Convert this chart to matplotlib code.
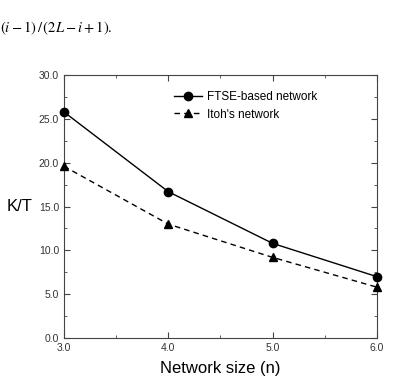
import matplotlib
matplotlib.use('Agg')
import matplotlib.pyplot as plt
from matplotlib.ticker import MultipleLocator, FormatStrFormatter

plt.rcParams['font.family'] = ['Liberation Sans', 'DejaVu Sans']
plt.rcParams['mathtext.fontset'] = 'stix'

# data
network_size = [3.0, 4.0, 5.0, 6.0]
ftse_kt = [25.8, 16.7, 10.8, 7.0]
itoh_kt = [19.6, 13.0, 9.2, 5.8]

fig = plt.figure(figsize=(3.99, 3.79), dpi=100)
ax = fig.add_axes([0.160, 0.108, 0.785, 0.694])

ax.plot(network_size, ftse_kt, color='black', lw=1.0, marker='o', ms=6,
        label='FTSE-based network', clip_on=False, zorder=3)
ax.plot(network_size, itoh_kt, color='black', lw=1.0, ls=(0, (4, 3)), marker='^', ms=6,
        label="Itoh's network", clip_on=False, zorder=3)

ax.set_xlim(3.0, 6.0)
ax.set_ylim(0.0, 30.0)
ax.xaxis.set_major_locator(MultipleLocator(1.0))
ax.xaxis.set_minor_locator(MultipleLocator(0.5))
ax.yaxis.set_major_locator(MultipleLocator(5.0))
ax.yaxis.set_minor_locator(MultipleLocator(2.5))
ax.xaxis.set_major_formatter(FormatStrFormatter('%.1f'))
ax.yaxis.set_major_formatter(FormatStrFormatter('%.1f'))
ax.tick_params(which='both', direction='in', top=True, right=True, labelsize=7.5,
               color='#444444', labelcolor='#333333')
ax.tick_params(which='major', length=4)
ax.tick_params(which='minor', length=2)
for s in ax.spines.values():
    s.set_linewidth(0.8)
    s.set_color('#444444')

ax.set_xlabel('Network size (n)', fontsize=12, labelpad=6)
ax.set_ylabel('K/T', fontsize=12, rotation=0, labelpad=14, va='center')

ax.legend(loc='upper right', bbox_to_anchor=(0.835, 0.97), frameon=False, fontsize=8.5,
          handlelength=2.4, handletextpad=0.4, borderaxespad=0.3, labelspacing=0.45)

fig.text(0.0, 0.925, r'$(i-1)\,/\,(2L-i+1).$', fontsize=10.5, ha='left', va='center')

fig.savefig('out.png', dpi=100)
